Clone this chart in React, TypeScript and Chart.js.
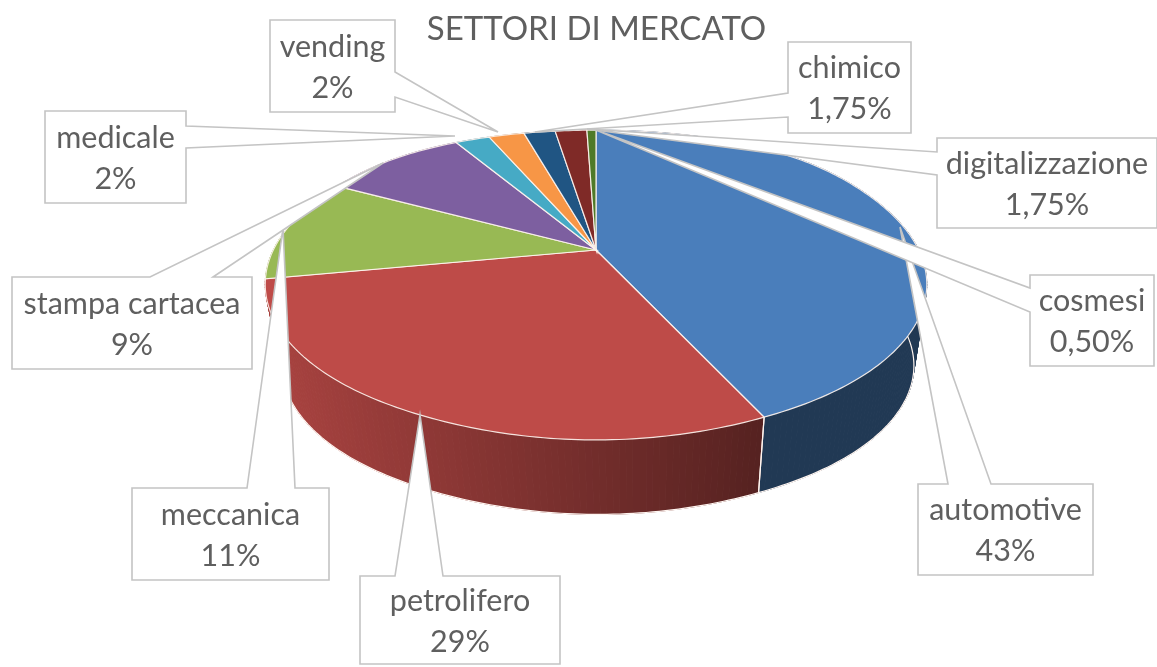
import React, { useEffect, useRef } from "react";
import { Chart, registerables } from "chart.js";

Chart.register(...registerables);

const categories = ["automotive", "petrolifero", "meccanica", "stampa cartacea", "medicale", "vending", "chimico", "digitalizzazione", "cosmesi"];
const shares = [43, 29, 11, 9, 2, 2, 1.75, 1.75, 0.5];
const shareLabels = ["43%", "29%", "11%", "9%", "2%", "2%", "1,75%", "1,75%", "0,50%"];
const sliceColors = ["#4a7ebb", "#be4b48", "#98b954", "#7d5fa0", "#46aac5", "#f79646", "#205583", "#7f2a27", "#4f7a28"];

// callout boxes: [left, top, right, bottom], pointer base side + two base coords, tip
type Callout = { box: number[]; side: "l" | "r" | "t"; base: number[]; tip: number[] };
const callouts: Callout[] = [
  { box: [918, 484, 1093, 575], side: "t", base: [948, 991], tip: [900, 227] },
  { box: [360, 576, 560, 664], side: "t", base: [395, 443], tip: [420, 415] },
  { box: [132, 488, 329, 580], side: "t", base: [247, 295], tip: [283, 228] },
  { box: [12, 277, 252, 369], side: "t", base: [150, 213], tip: [383, 163] },
  { box: [45, 111, 186, 203], side: "r", base: [126, 148], tip: [455, 136] },
  { box: [270, 20, 395, 112], side: "r", base: [72, 97], tip: [498, 132] },
  { box: [788, 42, 911, 133], side: "l", base: [93, 117], tip: [535, 132] },
  { box: [937, 138, 1157, 228], side: "l", base: [152, 175], tip: [587, 129] },
  { box: [1030, 275, 1154, 366], side: "l", base: [288, 312], tip: [596, 130] },
];

const APEX_X = 596, APEX_Y = 250, K = 0.226, A = 321.5, B = 147;
const S = 0.955, DX = 2, DY = 83;

function softMax(a: number, b: number, e: number) {
  return (a + b + Math.sqrt((a - b) * (a - b) + e)) / 2;
}
function softMin(a: number, b: number, e: number) {
  return (a + b - Math.sqrt((a - b) * (a - b) + e)) / 2;
}
function top(a: number) {
  const u = Math.cos(a), v = Math.sin(a), w = 1 - K * v;
  const vx = softMin(softMax(v, -0.5, 0.04), 0.85, 0.01);
  return [APEX_X + (A * u) / (1 - K * vx), APEX_Y + (B * v) / w];
}
function bottom(a: number) {
  const [x, y] = top(a);
  return [APEX_X + (x - APEX_X) * S + DX, APEX_Y + (y - APEX_Y) * S + DY];
}
function shade(hex: string, f: number) {
  const n = parseInt(hex.slice(1), 16);
  return `rgb(${((n >> 16) & 255) * f},${((n >> 8) & 255) * f},${(n & 255) * f})`;
}

const pie3d = {
  id: "pie3d",
  beforeDatasetsDraw(chart: any) {
    const ctx = chart.ctx as CanvasRenderingContext2D;
    const arcs = chart.getDatasetMeta(0).data.map((el: any) => el.getProps(["startAngle", "endAngle"], true));
    const STEP = Math.PI / 180;
    ctx.save();
    // side walls
    arcs.forEach((arc: any, i: number) => {
      const n = Math.max(1, Math.ceil((arc.endAngle - arc.startAngle) / STEP));
      const d = (arc.endAngle - arc.startAngle) / n;
      for (let j = 0; j < n; j++) {
        const a0 = arc.startAngle + j * d, a1 = a0 + d;
        const p = [top(a0), top(a1), bottom(a1), bottom(a0)];
        const t = Math.min(1, Math.max(0, (p[2][0] - 290) / 467));
        const c = shade(sliceColors[i], 0.88 - 0.43 * t);
        ctx.fillStyle = c; ctx.strokeStyle = c; ctx.lineWidth = 1;
        ctx.beginPath();
        p.forEach((q, k) => (k ? ctx.lineTo(q[0], q[1]) : ctx.moveTo(q[0], q[1])));
        ctx.closePath(); ctx.fill(); ctx.stroke();
      }
    });
    // wall edges
    ctx.strokeStyle = "#fff5f0"; ctx.lineWidth = 1.2;
    arcs.forEach((arc: any) => {
      const n = Math.max(1, Math.ceil((arc.endAngle - arc.startAngle) / STEP));
      ctx.beginPath();
      const t0 = top(arc.startAngle);
      ctx.moveTo(t0[0], t0[1]);
      for (let j = 0; j <= n; j++) {
        const q = bottom(arc.startAngle + ((arc.endAngle - arc.startAngle) * j) / n);
        ctx.lineTo(q[0], q[1]);
      }
      const t1 = top(arc.endAngle);
      ctx.lineTo(t1[0], t1[1]);
      ctx.stroke();
    });
    // top faces
    arcs.forEach((arc: any, i: number) => {
      const n = Math.max(1, Math.ceil((arc.endAngle - arc.startAngle) / STEP));
      ctx.beginPath();
      ctx.moveTo(APEX_X, APEX_Y);
      for (let j = 0; j <= n; j++) {
        const q = top(arc.startAngle + ((arc.endAngle - arc.startAngle) * j) / n);
        ctx.lineTo(q[0], q[1]);
      }
      ctx.closePath();
      ctx.fillStyle = sliceColors[i];
      ctx.fill();
      ctx.strokeStyle = "rgba(255,245,240,0.9)";
      ctx.lineWidth = 1.2;
      ctx.stroke();
    });
    ctx.restore();
    return false;
  },
  afterDraw(chart: any) {
    const ctx = chart.ctx as CanvasRenderingContext2D;
    ctx.save();
    callouts.forEach((c, i) => {
      const [l, t, r, b] = c.box;
      ctx.beginPath();
      ctx.moveTo(l, t);
      if (c.side === "t") {
        ctx.lineTo(c.base[0], t); ctx.lineTo(c.tip[0], c.tip[1]); ctx.lineTo(c.base[1], t);
      }
      ctx.lineTo(r, t);
      if (c.side === "r") {
        ctx.lineTo(r, c.base[0]); ctx.lineTo(c.tip[0], c.tip[1]); ctx.lineTo(r, c.base[1]);
      }
      ctx.lineTo(r, b);
      ctx.lineTo(l, b);
      if (c.side === "l") {
        ctx.lineTo(l, c.base[1]); ctx.lineTo(c.tip[0], c.tip[1]); ctx.lineTo(l, c.base[0]);
      }
      ctx.closePath();
      ctx.fillStyle = "#ffffff";
      ctx.fill();
      ctx.strokeStyle = "#c4c4c4";
      ctx.lineWidth = 1.6;
      ctx.stroke();
      ctx.fillStyle = "#5f5f5f";
      ctx.font = "30.5px Lato";
      ctx.textAlign = "center";
      ctx.textBaseline = "middle";
      const cx = (l + r) / 2, cy = (t + b) / 2;
      ctx.fillText(categories[i], cx, cy - 19);
      ctx.fillText(shareLabels[i], cx, cy + 22);
    });
    ctx.restore();
  },
};

export default function App() {
  const ref = useRef<HTMLCanvasElement>(null);
  useEffect(() => {
    const chart = new Chart(ref.current!, {
      type: "pie",
      data: {
        labels: categories,
        datasets: [{ data: shares, backgroundColor: sliceColors }],
      },
      options: {
        responsive: false,
        animation: false,
        layout: { padding: { left: 36 } },
        plugins: {
          legend: { display: false },
          tooltip: { enabled: false },
          title: {
            display: true,
            text: "SETTORI DI MERCATO",
            color: "#5f5f5f",
            font: { family: "Lato", size: 33, weight: "normal" },
            padding: { top: 10, bottom: 10 },
          },
        },
      },
      plugins: [pie3d],
    } as any);
    return () => chart.destroy();
  }, []);
  return (
    <div style={{ position: "fixed", left: 0, top: 0, width: 1157, height: 667, background: "#fff" }}>
      <canvas ref={ref} width={1157} height={667} style={{ display: "block" }} />
    </div>
  );
}
